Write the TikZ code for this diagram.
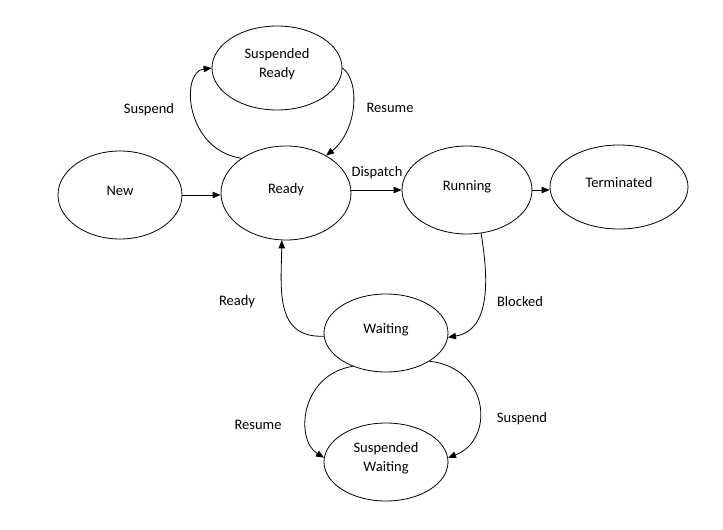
\documentclass[tikz,border=0pt]{standalone}
\usepackage{fontspec}
\setmainfont{Carlito}
\usetikzlibrary{shapes.geometric,arrows.meta}
\newcommand\sttext[1]{\raisebox{3.5pt}[\height][\depth]{\begin{tabular}{@{}c@{}}#1\end{tabular}}}
\begin{document}
\begin{tikzpicture}[x=1pt,y=-1pt,
  state/.style={draw, ellipse, line width=0.8pt, inner sep=0pt},
  conn/.style={draw, line width=0.8pt, -{Triangle[length=8pt,width=6.5pt]}},
  lbl/.style={inner sep=0pt},
  font=\fontsize{14.5}{19}\selectfont]
\useasboundingbox[fill=white] (0,0) rectangle (723,530);

\node[state, minimum width=124pt, minimum height=88pt] (new) at (120,195) {\sttext{New}};
\node[state, minimum width=130pt, minimum height=94pt] (ready) at (286,193) {\sttext{Ready}};
\node[state, minimum width=130pt, minimum height=88pt] (running) at (467,190) {\sttext{Running}};
\node[state, minimum width=138pt, minimum height=84pt] (term) at (619,187) {\sttext{Terminated}};
\node[state, minimum width=130pt, minimum height=84pt] (sready) at (277,68) {\sttext{Suspended\\Ready}};
\node[state, minimum width=124pt, minimum height=78pt] (wait) at (386,333) {\sttext{Waiting}};
\node[state, minimum width=124pt, minimum height=78pt] (swait) at (386,462) {\sttext{Suspended\\Waiting}};

\draw[conn] (new.east) -- (new.east -| ready.west);
\draw[conn] (running.west -| ready.east) -- (running.west);
\draw[conn] (running.east) -- (running.east -| term.west);

\draw[conn] (ready.142) .. controls (185,150) and (180,72) .. (sready.west);
\draw[conn] (sready.east) .. controls (360,80) and (358,130) .. (ready.43);
\draw[conn] (wait.183) .. controls (275,338) and (281,290) .. (ready.265);
\draw[conn] (running.288) .. controls (488,275) and (492,330) .. (wait.356);
\draw[conn] (wait.225) .. controls (300,375) and (295,440) .. (swait.176);
\draw[conn] (wait.327) .. controls (490,368) and (495,440) .. (swait.4);

\node[lbl] (lsus1) at (149,110) {Suspend};
\node[lbl] (lres1) at (390,108) {Resume};
\node[lbl] (ldisp) at (377,173) {Dispatch};
\node[lbl] (lready) at (237,302) {Ready};
\node[lbl] (lblock) at (520,302) {Blocked};
\node[lbl] (lres2) at (258,425) {Resume};
\node[lbl] (lsus2) at (522,419) {Suspend};
\end{tikzpicture}
\end{document}
